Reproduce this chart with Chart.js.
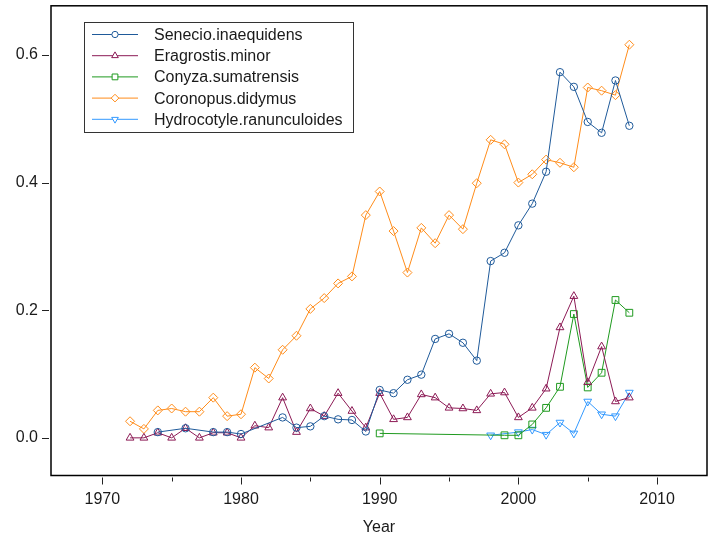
<!DOCTYPE html>
<html>
<head>
<meta charset="utf-8">
<script src="https://cdn.jsdelivr.net/npm/chart.js@4.4.1/dist/chart.umd.min.js"></script>
<style>
  body { margin: 0; background: #fff; }
</style>
</head>
<body>
<canvas id="plot" width="715" height="537"></canvas>
<script>
// species shown in the legend, same order as the reference
const speciesNames = ['Senecio.inaequidens', 'Eragrostis.minor', 'Conyza.sumatrensis', 'Coronopus.didymus', 'Hydrocotyle.ranunculoides'];

// years with a record, one list per species
const senecioYears = [1974, 1976, 1978, 1979, 1980, 1983, 1984, 1985, 1986, 1987, 1988, 1989, 1990, 1991, 1992, 1993, 1994, 1995, 1996, 1997, 1998, 1999, 2000, 2001, 2002, 2003, 2004, 2005, 2006, 2007, 2008];
const eragrostisYears = [1972, 1973, 1974, 1975, 1976, 1977, 1978, 1979, 1980, 1981, 1982, 1983, 1984, 1985, 1986, 1987, 1988, 1989, 1990, 1991, 1992, 1993, 1994, 1995, 1996, 1997, 1998, 1999, 2000, 2001, 2002, 2003, 2004, 2005, 2006, 2007, 2008];
const conyzaYears = [1990, 1999, 2000, 2001, 2002, 2003, 2004, 2005, 2006, 2007, 2008];
const coronopusYears = eragrostisYears;
const hydrocotyleYears = [1998, 2000, 2001, 2002, 2003, 2004, 2005, 2006, 2007, 2008];

// values
const senecioValues = [0.009, 0.015, 0.009, 0.009, 0.006, 0.032, 0.016, 0.018, 0.034, 0.029, 0.028, 0.010, 0.075, 0.070, 0.091, 0.099, 0.155, 0.163, 0.149, 0.121, 0.277, 0.290, 0.333, 0.367, 0.417, 0.573, 0.550, 0.495, 0.478, 0.560, 0.489];
const eragrostisValues = [0, 0, 0.008, 0, 0.015, 0, 0.008, 0.008, 0, 0.019, 0.016, 0.063, 0.009, 0.046, 0.034, 0.070, 0.042, 0.016, 0.070, 0.029, 0.032, 0.068, 0.063, 0.047, 0.046, 0.043, 0.069, 0.071, 0.032, 0.047, 0.077, 0.173, 0.222, 0.087, 0.143, 0.057, 0.063];
const conyzaValues = [0.007, 0.004, 0.004, 0.021, 0.047, 0.080, 0.194, 0.079, 0.102, 0.216, 0.196];
const coronopusValues = [0.026, 0.014, 0.043, 0.046, 0.041, 0.041, 0.063, 0.034, 0.037, 0.110, 0.093, 0.138, 0.160, 0.202, 0.219, 0.242, 0.253, 0.349, 0.386, 0.324, 0.259, 0.329, 0.305, 0.349, 0.327, 0.399, 0.467, 0.460, 0.400, 0.413, 0.436, 0.431, 0.424, 0.549, 0.544, 0.537, 0.616];
const hydrocotyleValues = [0.004, 0.009, 0.013, 0.005, 0.024, 0.007, 0.057, 0.037, 0.034, 0.071];

// axis ticks
const xTickValues = [1970, 1975, 1980, 1985, 1990, 1995, 2000, 2005, 2010];
const yTickValues = [0, 0.2, 0.4, 0.6];

const FONT = "'Liberation Sans', Arial, sans-serif";

const toPoints = (years, vals) => years.map((yr, i) => ({ x: yr, y: vals[i] }));

const styles = [
  { color: '#1f5a9a', pointStyle: 'circle', radius: 3.7, rotation: 0 },
  { color: '#8c1a55', pointStyle: 'triangle', radius: 4.5, rotation: 0 },
  { color: '#1f9a1f', pointStyle: 'rect', radius: 4.8, rotation: 0 },
  { color: '#ff8c1a', pointStyle: 'rectRot', radius: 4.5, rotation: 0 },
  { color: '#3399ff', pointStyle: 'triangle', radius: 4.5, rotation: 180 }
];

const allData = [
  toPoints(senecioYears, senecioValues),
  toPoints(eragrostisYears, eragrostisValues),
  toPoints(conyzaYears, conyzaValues),
  toPoints(coronopusYears, coronopusValues),
  toPoints(hydrocotyleYears, hydrocotyleValues)
];

const datasets = speciesNames.map((name, i) => ({
  label: name,
  data: allData[i],
  borderColor: styles[i].color,
  backgroundColor: 'transparent',
  borderWidth: 1,
  tension: 0,
  pointStyle: styles[i].pointStyle,
  pointRadius: styles[i].radius,
  pointRotation: styles[i].rotation,
  pointBorderColor: styles[i].color,
  pointBackgroundColor: 'transparent',
  pointBorderWidth: 1
}));

// frame, outside tick marks and the boxed legend
const framePlugin = {
  id: 'framePlugin',
  afterDraw(chart) {
    const ctx = chart.ctx;
    const a = chart.chartArea;
    const xs = chart.scales.x;
    const ys = chart.scales.y;
    ctx.save();
    ctx.strokeStyle = '#000';
    ctx.lineWidth = 1.5;
    ctx.strokeRect(a.left, a.top, a.right - a.left, a.bottom - a.top);

    ctx.lineWidth = 1;
    ctx.strokeStyle = '#222';
    ctx.beginPath();
    xTickValues.forEach(v => {
      const px = Math.round(xs.getPixelForValue(v)) + 0.5;
      const len = v % 10 === 0 ? 7 : 4;
      ctx.moveTo(px, a.bottom + 2);
      ctx.lineTo(px, a.bottom + 2 + len);
    });
    yTickValues.forEach(v => {
      const py = Math.round(ys.getPixelForValue(v)) + 0.5;
      ctx.moveTo(a.left - 2, py);
      ctx.lineTo(a.left - 9, py);
    });
    ctx.stroke();

    // legend box
    const lx = 84, ly = 22, lw = 269, lh = 110;
    ctx.fillStyle = '#fff';
    ctx.fillRect(lx, ly, lw, lh);
    ctx.strokeStyle = '#333';
    ctx.lineWidth = 1;
    ctx.strokeRect(lx + 0.5, ly + 0.5, lw, lh);
    ctx.font = '16px ' + FONT;
    ctx.textBaseline = 'middle';
    ctx.textAlign = 'left';
    chart.data.datasets.forEach((ds, i) => {
      const ry = 34.5 + i * 21.2;
      ctx.strokeStyle = ds.borderColor;
      ctx.lineWidth = 1;
      ctx.beginPath();
      ctx.moveTo(92, ry);
      ctx.lineTo(138, ry);
      ctx.stroke();
      const opts = {
        pointStyle: ds.pointStyle,
        radius: ds.pointRadius * 0.85,
        rotation: ds.pointRotation,
        borderWidth: 1
      };
      ctx.fillStyle = '#fff';
      ctx.strokeStyle = ds.borderColor;
      Chart.helpers.drawPoint(ctx, opts, 115, ry);
      ctx.fillStyle = '#1a1a1a';
      ctx.fillText(ds.label, 154, ry + 1);
    });
    ctx.restore();
  }
};

const noPad = scale => {
  scale.paddingTop = 0;
  scale.paddingBottom = 0;
  scale.paddingLeft = 0;
  scale.paddingRight = 0;
};

new Chart(document.getElementById('plot').getContext('2d'), {
  type: 'line',
  data: { datasets: datasets },
  options: {
    responsive: false,
    animation: false,
    layout: { padding: { top: 4, right: 8, left: 0, bottom: 0 } },
    plugins: {
      legend: { display: false },
      tooltip: { enabled: false }
    },
    scales: {
      x: {
        type: 'linear',
        min: 1966.3,
        max: 2013.6,
        afterBuildTicks(scale) { scale.ticks = xTickValues.map(v => ({ value: v })); },
        afterFit(scale) { scale.height = 61.5; noPad(scale); },
        grid: { display: false, drawTicks: false },
        border: { display: false },
        ticks: {
          padding: 14,
          color: '#1a1a1a',
          font: { family: FONT, size: 16 },
          maxRotation: 0,
          autoSkip: false,
          callback: v => (v % 10 === 0 ? String(v) : '')
        },
        title: {
          display: true,
          text: 'Year',
          color: '#1a1a1a',
          font: { family: FONT, size: 16 },
          padding: { top: 0, bottom: 0 }
        }
      },
      y: {
        min: -0.059,
        max: 0.677,
        afterBuildTicks(scale) { scale.ticks = yTickValues.map(v => ({ value: v })); },
        afterFit(scale) { scale.width = 51; noPad(scale); },
        grid: { display: false, drawTicks: false },
        border: { display: false },
        ticks: {
          padding: 13,
          color: '#1a1a1a',
          font: { family: FONT, size: 16 },
          autoSkip: false,
          callback: v => Number(v).toFixed(1)
        }
      }
    }
  },
  plugins: [framePlugin]
});
</script>
</body>
</html>
